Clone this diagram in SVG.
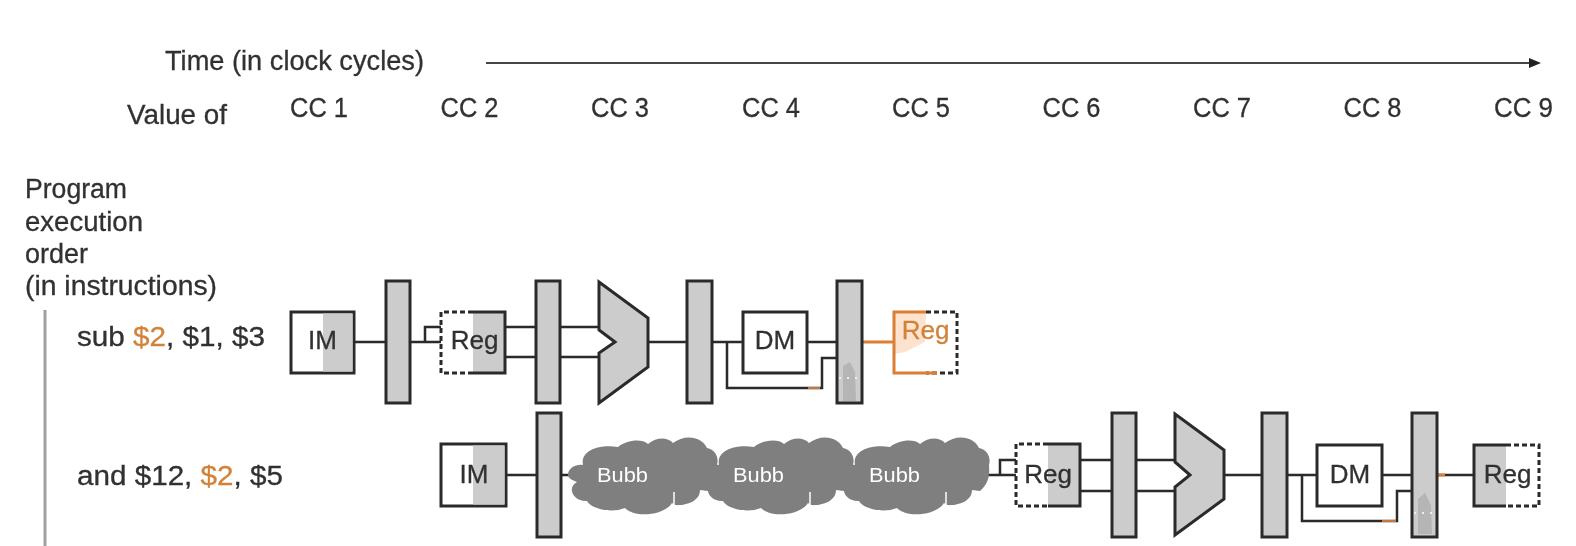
<svg xmlns="http://www.w3.org/2000/svg" xmlns:xlink="http://www.w3.org/1999/xlink" width="1576" height="546" viewBox="0 0 1576 546">
<style>
text{font-family:"Liberation Sans",Arial,sans-serif;font-size:26px;fill:#303030;stroke:#303030;stroke-width:.3}
.big{font-size:28px}
.cc{font-size:27px}
.left{font-size:27px}
tspan.o{fill:#d2833a;stroke:#d2833a}
text.o{fill:#d2833a;stroke:#d2833a}
text.w{fill:#fff;stroke:none;font-size:20px}
.pipe,.alu{fill:#ccc;stroke:#2b2b2b;stroke-width:3}
.box{fill:#fff;stroke:#2b2b2b;stroke-width:3}
.g{fill:#ccc}
.edge{fill:none;stroke:#2b2b2b;stroke-width:2.500}
.time{fill:none;stroke:#444;stroke-width:2}
.dash{fill:none;stroke:#2b2b2b;stroke-width:3;stroke-dasharray:5 3}
.solid{fill:none;stroke:#2b2b2b;stroke-width:3}
.or{fill:none;stroke:#dc7f35;stroke-width:3}
.or2{fill:none;stroke:#c9763a;stroke-width:2}
.cl{fill:#7f7f7f}
.blob{fill:#b5b5b5}
.dots{fill:none;stroke:#eee;stroke-width:2;stroke-dasharray:2 6}
</style>
<defs>
<filter id="b" x="-2%" y="-2%" width="104%" height="104%"><feGaussianBlur stdDeviation="0.55"/></filter>
<marker id="ah" markerWidth="13" markerHeight="11" refX="1" refY="5.500" orient="auto" markerUnits="userSpaceOnUse"><path d="M0 0.500L12 5.500L0 10.500Z" fill="#222"/></marker>
<g id="cloud">
<path class="cl" d="M568 475C568 468 576 464 583 465C580 450 600 444 618 447C626 440 642 438 648 444C658 436 668 438 673 443C684 434 702 436 707 448C716 450 719 458 717 465C718 476 716 484 708 491L700 490C700 502 684 506 675 505L672 503C664 516 634 518 625 508C610 514 590 508 587 501C574 502 566 488 577 482C572 480 568 478 568 475Z"/>
<path d="M674 492V505" stroke="#fff" stroke-width="1.500" fill="none"/>
</g>
</defs>
<rect width="1576" height="546" fill="#fff"/>
<g filter="url(#b)">
<g id="header">
<text class="big" x="165" y="70" textLength="259" lengthAdjust="spacingAndGlyphs">Time (in clock cycles)</text>
<text class="big" x="127" y="124" textLength="100" lengthAdjust="spacingAndGlyphs">Value of</text>
<text class="cc" x="290" y="117" textLength="58" lengthAdjust="spacingAndGlyphs">CC 1</text>
<text class="cc" x="440.500" y="117" textLength="58" lengthAdjust="spacingAndGlyphs">CC 2</text>
<text class="cc" x="591" y="117" textLength="58" lengthAdjust="spacingAndGlyphs">CC 3</text>
<text class="cc" x="742" y="117" textLength="58" lengthAdjust="spacingAndGlyphs">CC 4</text>
<text class="cc" x="892" y="117" textLength="58" lengthAdjust="spacingAndGlyphs">CC 5</text>
<text class="cc" x="1042.500" y="117" textLength="58" lengthAdjust="spacingAndGlyphs">CC 6</text>
<text class="cc" x="1193" y="117" textLength="58" lengthAdjust="spacingAndGlyphs">CC 7</text>
<text class="cc" x="1343.500" y="117" textLength="58" lengthAdjust="spacingAndGlyphs">CC 8</text>
<text class="cc" x="1494" y="117" textLength="59" lengthAdjust="spacingAndGlyphs">CC 9</text>
</g>
<g id="order">
<text class="left" x="25" y="198" textLength="102" lengthAdjust="spacingAndGlyphs">Program</text>
<text class="left" x="25" y="231" textLength="118" lengthAdjust="spacingAndGlyphs">execution</text>
<text class="left" x="25" y="263" textLength="63" lengthAdjust="spacingAndGlyphs">order</text>
<text class="left" x="25" y="295" textLength="192" lengthAdjust="spacingAndGlyphs">(in instructions)</text>
<path d="M45 310V546" stroke="#a0a0a0" stroke-width="3" fill="none"/>
<text class="left" x="77" y="346" textLength="188" lengthAdjust="spacingAndGlyphs">sub <tspan class="o">$2</tspan>, $1, $3</text>
<text class="left" x="77" y="485" textLength="206" lengthAdjust="spacingAndGlyphs">and $12, <tspan class="o">$2</tspan>, $5</text>
</g>
<g id="connectors">
<path class="time" d="M486 63H1530" marker-end="url(#ah)"/>
<path class="edge" d="M354 342H387M410 342H441M425 342V327H441M505 327H599M505 357H599M648 342H688M712 342H743M807 342H838M727 342V388H822V358H838"/>
<path d="M862 342H893" class="or"/>
<path d="M808 388H820" class="or2"/>
<path class="edge" d="M506 475H538M561 475H572M986 475H1016M1000 475V460H1016M1080 460H1175M1080 491H1175M1224 475H1263M1287 475H1318M1382 475H1413M1302 475V521H1397V491H1413M1437 475H1474"/>
<path d="M1437 475H1445" class="or"/>
<path d="M1382 521H1396" class="or2"/>
</g>
<g id="im1"><rect class="box" x="291" y="312" width="63" height="61"/><rect class="g" x="323" y="313.500" width="29.500" height="58"/><text x="322.500" y="349" text-anchor="middle">IM</text></g>
<g id="pipe1"><rect class="pipe" x="386" y="281" width="24" height="122"/></g>
<g id="reg1"><rect class="g" x="473" y="312" width="32" height="61"/><path class="dash" d="M473 312H441V373H473"/><path class="solid" d="M473 312H505V373H473"/><text x="474.500" y="349" text-anchor="middle">Reg</text></g>
<g id="pipe2"><rect class="pipe" x="536" y="281" width="24" height="122"/></g>
<g id="alu1"><path class="alu" d="M599 282L648 318V367L599 403V353L615 342L599 330Z"/></g>
<g id="pipe3"><rect class="pipe" x="687" y="281" width="25" height="122"/></g>
<g id="dm1"><rect class="box" x="743" y="312" width="64" height="61"/><text x="775" y="349" text-anchor="middle">DM</text></g>
<g id="pipe4"><rect class="pipe" x="837" y="281" width="25" height="122"/><path class="blob" d="M843 366L850 362L855 372L856 401H843Z"/><path class="dots" d="M839 378H860"/></g>
<g id="reg2"><path d="M895 313H926L925 342L905 352L895 354Z" fill="#fbe3d0"/><path class="dash" d="M926 312H957V373H926"/><path class="or" d="M926 312H894V373H937"/><text class="o" x="925.500" y="339" text-anchor="middle">Reg</text></g>
<g id="im2"><rect class="box" x="441" y="444" width="65" height="62"/><rect class="g" x="473" y="445.500" width="31.500" height="59"/><text x="474" y="483" text-anchor="middle">IM</text></g>
<g id="pipe5"><rect class="pipe" x="537" y="413" width="24" height="124"/></g>
<g id="bubble1"><use href="#cloud"/><text class="w" x="597" y="482" textLength="51" lengthAdjust="spacingAndGlyphs">Bubb</text></g>
<g id="bubble2"><use href="#cloud" x="136"/><text class="w" x="733" y="482" textLength="51" lengthAdjust="spacingAndGlyphs">Bubb</text></g>
<g id="bubble3"><use href="#cloud" x="272"/><text class="w" x="869" y="482" textLength="51" lengthAdjust="spacingAndGlyphs">Bubb</text></g>
<g id="reg3"><rect class="g" x="1048" y="444" width="32" height="62"/><path class="dash" d="M1048 444H1016V506H1048"/><path class="solid" d="M1048 444H1080V506H1048"/><text x="1048" y="483" text-anchor="middle">Reg</text></g>
<g id="pipe6"><rect class="pipe" x="1112" y="413" width="24" height="124"/></g>
<g id="alu2"><path class="alu" d="M1175 414L1224 450V499L1175 535V487L1190 475L1175 462Z"/></g>
<g id="pipe7"><rect class="pipe" x="1262" y="413" width="25" height="124"/></g>
<g id="dm2"><rect class="box" x="1317" y="445" width="65" height="61"/><text x="1350" y="483" text-anchor="middle">DM</text></g>
<g id="pipe8"><rect class="pipe" x="1412" y="413" width="25" height="124"/><path class="blob" d="M1418 499L1425 493L1431 505L1432 534H1418Z"/><path class="dots" d="M1414 513H1435"/></g>
<g id="reg4"><rect class="g" x="1474" y="445" width="32" height="61"/><path class="dash" d="M1506 445H1539V506H1506"/><path class="solid" d="M1506 445H1474V506H1506"/><text x="1507.500" y="483" text-anchor="middle">Reg</text></g>
</g>
</svg>
